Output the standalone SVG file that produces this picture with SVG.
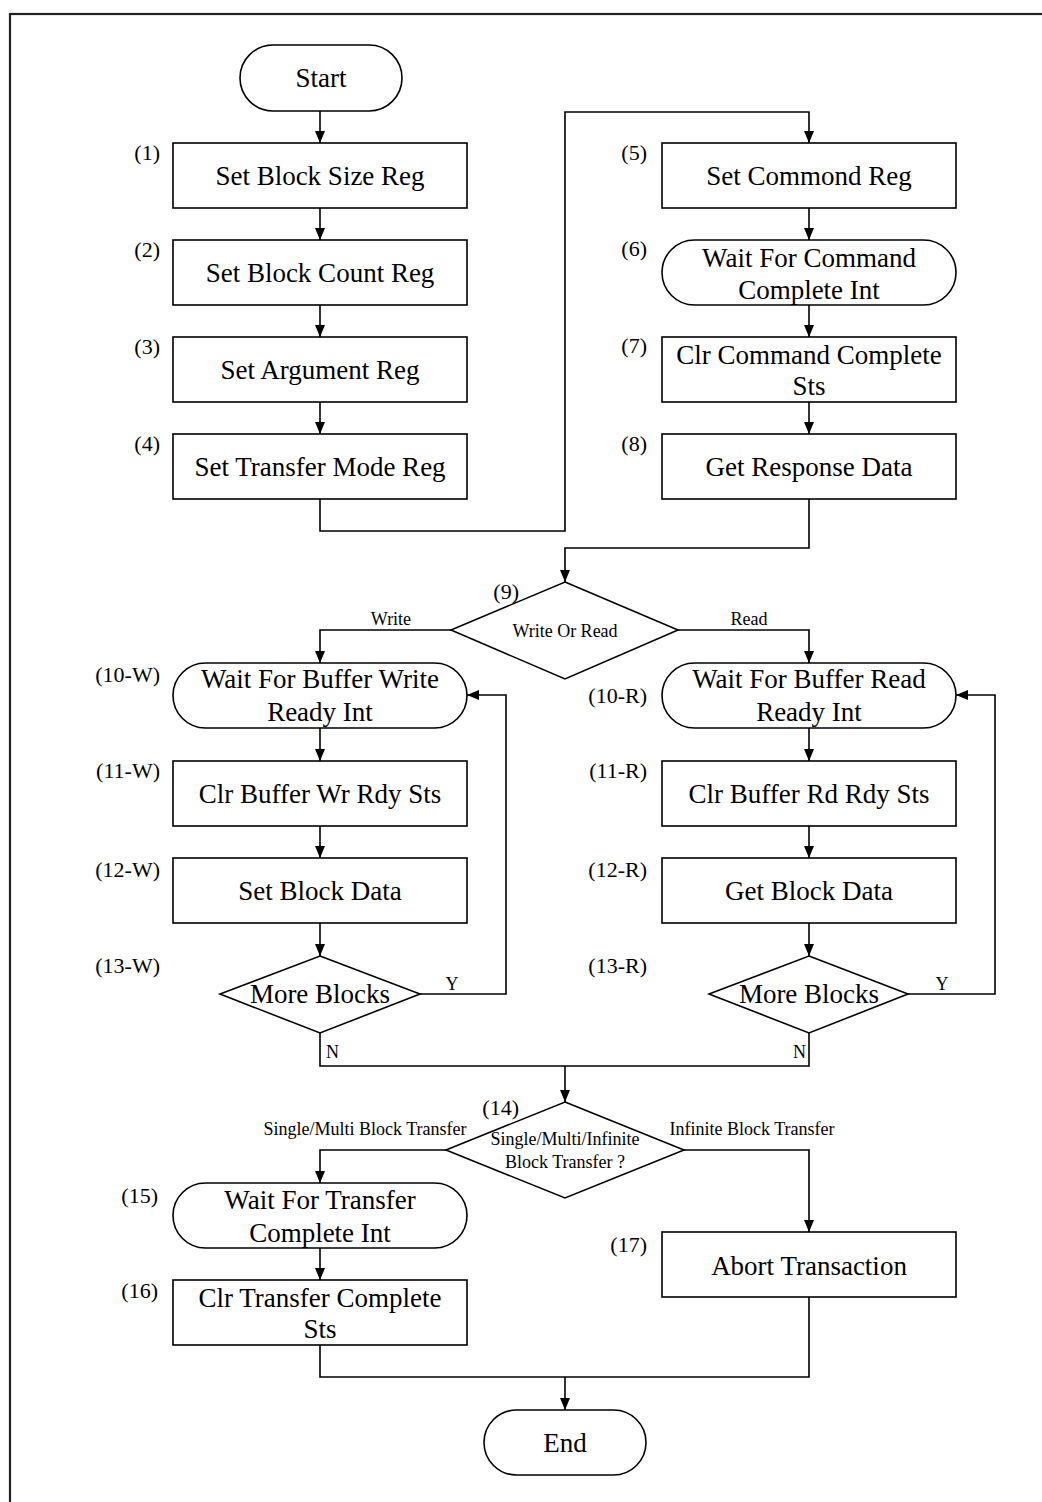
<svg xmlns="http://www.w3.org/2000/svg" width="1042" height="1502" viewBox="0 0 1042 1502">
<style>
.shape{fill:#fff;stroke:#000;stroke-width:1.6}
.t{font-family:"Liberation Serif","Times New Roman",serif;font-size:27px;fill:#000;text-anchor:middle}
.lb{font-family:"Liberation Serif","Times New Roman",serif;font-size:22px;fill:#000;text-anchor:end}
.s{font-family:"Liberation Serif","Times New Roman",serif;font-size:18px;fill:#000;text-anchor:middle}
.c{fill:none;stroke:#000;stroke-width:1.6}
</style>
<defs>
<marker id="ah" markerUnits="userSpaceOnUse" markerWidth="12" markerHeight="12" viewBox="0 0 12 12" refX="12" refY="6" orient="auto">
<path d="M0,1 L12,6 L0,11 Z" fill="#000"/>
</marker>
</defs>
<rect x="10" y="14" width="1100" height="1600" fill="none" stroke="#222" stroke-width="2.2"/>

<g id="connectors">
<path class="c" d="M320 111 V143" marker-end="url(#ah)"/>
<path class="c" d="M320 208 V240" marker-end="url(#ah)"/>
<path class="c" d="M320 305 V337" marker-end="url(#ah)"/>
<path class="c" d="M320 402 V434" marker-end="url(#ah)"/>
<path class="c" d="M320 499 V531 H565 V112 H809 V143" marker-end="url(#ah)"/>
<path class="c" d="M809 208 V240" marker-end="url(#ah)"/>
<path class="c" d="M809 305 V337" marker-end="url(#ah)"/>
<path class="c" d="M809 402 V434" marker-end="url(#ah)"/>
<path class="c" d="M809 499 V548 H565 V582" marker-end="url(#ah)"/>
<path class="c" d="M451 630 H320 V663" marker-end="url(#ah)"/>
<path class="c" d="M678 630 H809 V663" marker-end="url(#ah)"/>
<path class="c" d="M320 728 V761" marker-end="url(#ah)"/>
<path class="c" d="M320 826 V858" marker-end="url(#ah)"/>
<path class="c" d="M320 923 V956" marker-end="url(#ah)"/>
<path class="c" d="M420 994 H506 V695 H467" marker-end="url(#ah)"/>
<path class="c" d="M809 728 V761" marker-end="url(#ah)"/>
<path class="c" d="M809 826 V858" marker-end="url(#ah)"/>
<path class="c" d="M809 923 V956" marker-end="url(#ah)"/>
<path class="c" d="M908 994 H995 V695 H956" marker-end="url(#ah)"/>
<path class="c" d="M320 1033 V1066 H809 V1033"/>
<path class="c" d="M565 1066 V1102" marker-end="url(#ah)"/>
<path class="c" d="M446 1150 H320 V1183" marker-end="url(#ah)"/>
<path class="c" d="M684 1150 H809 V1232" marker-end="url(#ah)"/>
<path class="c" d="M320 1248 V1280" marker-end="url(#ah)"/>
<path class="c" d="M320 1345 V1377 H809 V1297"/>
<path class="c" d="M565 1377 V1410" marker-end="url(#ah)"/>
<text class="s" x="391" y="625">Write</text>
<text class="s" x="749" y="625">Read</text>
<text class="s" x="452" y="990">Y</text>
<text class="s" x="942" y="990">Y</text>
<text class="s" x="326" y="1058" style="text-anchor:start">N</text>
<text class="s" x="806" y="1058" style="text-anchor:end">N</text>
<text class="s" x="365" y="1135">Single/Multi Block Transfer</text>
<text class="s" x="752" y="1135">Infinite Block Transfer</text>
</g>

<g id="start">
<rect class="shape" x="240" y="45" width="162" height="66" rx="33" ry="33"/>
<text class="t" x="321" y="87">Start</text>
</g>
<g id="n1">
<rect class="shape" x="173" y="143" width="294" height="65"/>
<text class="lb" x="160" y="160">(1)</text>
<text class="t" x="320" y="185">Set Block Size Reg</text>
</g>
<g id="n2">
<rect class="shape" x="173" y="240" width="294" height="65"/>
<text class="lb" x="160" y="257">(2)</text>
<text class="t" x="320" y="282">Set Block Count Reg</text>
</g>
<g id="n3">
<rect class="shape" x="173" y="337" width="294" height="65"/>
<text class="lb" x="160" y="354">(3)</text>
<text class="t" x="320" y="379">Set Argument Reg</text>
</g>
<g id="n4">
<rect class="shape" x="173" y="434" width="294" height="65"/>
<text class="lb" x="160" y="451">(4)</text>
<text class="t" x="320" y="476">Set Transfer Mode Reg</text>
</g>
<g id="n5">
<rect class="shape" x="662" y="143" width="294" height="65"/>
<text class="lb" x="647" y="160">(5)</text>
<text class="t" x="809" y="185">Set Commond Reg</text>
</g>
<g id="n6">
<rect class="shape" x="662" y="240" width="294" height="65" rx="32.5" ry="32.5"/>
<text class="lb" x="647" y="256">(6)</text>
<text class="t" x="809" y="267">Wait For Command</text>
<text class="t" x="809" y="299">Complete Int</text>
</g>
<g id="n7">
<rect class="shape" x="662" y="337" width="294" height="65"/>
<text class="lb" x="647" y="353">(7)</text>
<text class="t" x="809" y="364">Clr Command Complete</text>
<text class="t" x="809" y="395">Sts</text>
</g>
<g id="n8">
<rect class="shape" x="662" y="434" width="294" height="65"/>
<text class="lb" x="647" y="451">(8)</text>
<text class="t" x="809" y="476">Get Response Data</text>
</g>
<g id="n9">
<polygon class="shape" points="565,582 678,630 565,679 451,630"/>
<text class="lb" x="519" y="599">(9)</text>
<text class="s" x="565" y="637">Write Or Read</text>
</g>
<g id="n10w">
<rect class="shape" x="173" y="663" width="294" height="65" rx="32.5" ry="32.5"/>
<text class="lb" x="160" y="682">(10-W)</text>
<text class="t" x="320" y="688">Wait For Buffer Write</text>
<text class="t" x="320" y="721">Ready Int</text>
</g>
<g id="n11w">
<rect class="shape" x="173" y="761" width="294" height="65"/>
<text class="lb" x="160" y="778">(11-W)</text>
<text class="t" x="320" y="803">Clr Buffer Wr Rdy Sts</text>
</g>
<g id="n12w">
<rect class="shape" x="173" y="858" width="294" height="65"/>
<text class="lb" x="160" y="877">(12-W)</text>
<text class="t" x="320" y="900">Set Block Data</text>
</g>
<g id="n13w">
<polygon class="shape" points="320,956 420,994 320,1033 220,994"/>
<text class="lb" x="160" y="973">(13-W)</text>
<text class="t" x="320" y="1003">More Blocks</text>
</g>
<g id="n10r">
<rect class="shape" x="662" y="663" width="294" height="65" rx="32.5" ry="32.5"/>
<text class="lb" x="647" y="703">(10-R)</text>
<text class="t" x="809" y="688">Wait For Buffer Read</text>
<text class="t" x="809" y="721">Ready Int</text>
</g>
<g id="n11r">
<rect class="shape" x="662" y="761" width="294" height="65"/>
<text class="lb" x="647" y="778">(11-R)</text>
<text class="t" x="809" y="803">Clr Buffer Rd Rdy Sts</text>
</g>
<g id="n12r">
<rect class="shape" x="662" y="858" width="294" height="65"/>
<text class="lb" x="647" y="877">(12-R)</text>
<text class="t" x="809" y="900">Get Block Data</text>
</g>
<g id="n13r">
<polygon class="shape" points="809,956 908,994 809,1033 709,994"/>
<text class="lb" x="647" y="973">(13-R)</text>
<text class="t" x="809" y="1003">More Blocks</text>
</g>
<g id="n14">
<polygon class="shape" points="565,1102 684,1150 565,1198 446,1150"/>
<text class="lb" x="519" y="1115">(14)</text>
<text class="s" x="565" y="1145">Single/Multi/Infinite</text>
<text class="s" x="565" y="1168">Block Transfer ?</text>
</g>
<g id="n15">
<rect class="shape" x="173" y="1183" width="294" height="65" rx="32.5" ry="32.5"/>
<text class="lb" x="158" y="1203">(15)</text>
<text class="t" x="320" y="1209">Wait For Transfer</text>
<text class="t" x="320" y="1242">Complete Int</text>
</g>
<g id="n16">
<rect class="shape" x="173" y="1280" width="294" height="65"/>
<text class="lb" x="158" y="1298">(16)</text>
<text class="t" x="320" y="1307">Clr Transfer Complete</text>
<text class="t" x="320" y="1338">Sts</text>
</g>
<g id="n17">
<rect class="shape" x="662" y="1232" width="294" height="65"/>
<text class="lb" x="647" y="1252">(17)</text>
<text class="t" x="809" y="1275">Abort Transaction</text>
</g>
<g id="end">
<rect class="shape" x="484" y="1410" width="162" height="65" rx="32.5" ry="32.5"/>
<text class="t" x="565" y="1452">End</text>
</g>
</svg>
